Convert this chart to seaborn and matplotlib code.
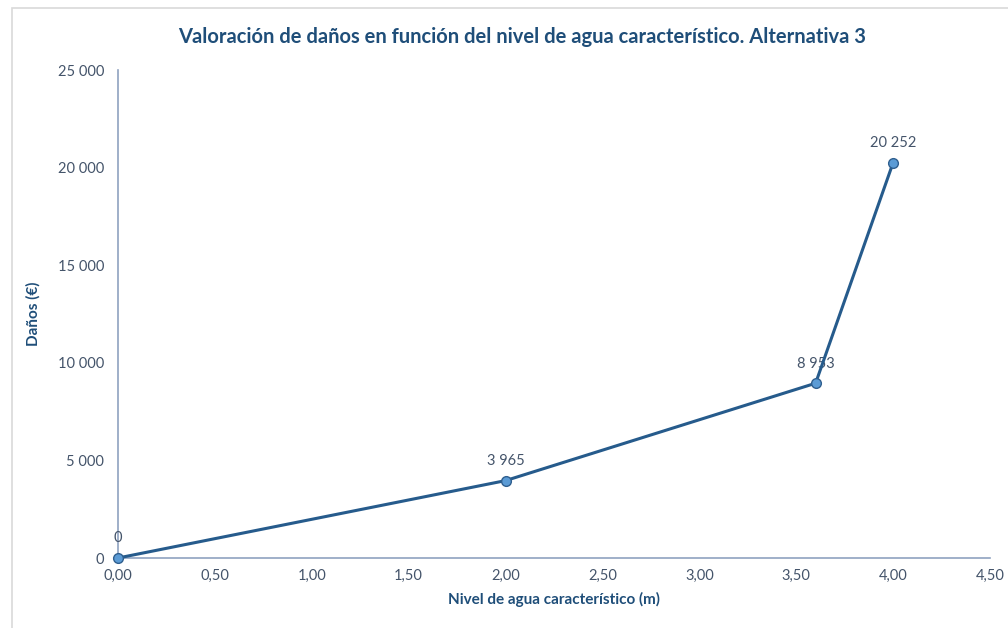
import matplotlib
matplotlib.use("Agg")
import matplotlib.pyplot as plt
import seaborn as sns
import pandas as pd
from matplotlib.patches import Rectangle

nivel = [0.0, 2.0, 3.6, 4.0]
danos = [0, 3965, 8953, 20252]
x_ticks = [0, 0.5, 1.0, 1.5, 2.0, 2.5, 3.0, 3.5, 4.0, 4.5]
y_ticks = [0, 5000, 10000, 15000, 20000, 25000]

title = "Valoración de daños en función del nivel de agua característico. Alternativa 3"
xlabel = "Nivel de agua característico (m)"
ylabel = "Daños (€)"

sns.set_theme(style="white")
plt.rcParams['font.family'] = ['Lato', 'DejaVu Sans']

df = pd.DataFrame({"x": nivel, "y": danos})

fig = plt.figure(figsize=(10.08, 6.28), dpi=100)
fig.patches.append(Rectangle((12/1008, -0.1), 1.2, (628-8)/628 + 0.1, transform=fig.transFigure,
                             fill=False, edgecolor="#D9D9D9", linewidth=1.2))
ax = fig.add_axes([118/1008, 1 - 558/628, (990-118)/1008, (558-70)/628])

line_c = "#265B8C"
sns.lineplot(data=df, x="x", y="y", ax=ax, color=line_c, linewidth=2.2,
             marker="o", markersize=7, markerfacecolor="#5B9BD5",
             markeredgecolor="#2F5F8F", markeredgewidth=1.0, clip_on=False, zorder=5)

ax.set_xlim(0, 4.5)
ax.set_ylim(0, 25000)
ax.set_xticks(x_ticks)
ax.set_yticks(y_ticks)
tick_c = "#44546A"
ax.set_xticklabels([f"{v:.2f}".replace(".", ",") for v in x_ticks])
ax.set_yticklabels([f"{v:,}".replace(",", " ") for v in y_ticks])
ax.tick_params(axis="both", length=0, labelsize=10.5, labelcolor=tick_c)
ax.tick_params(axis="x", pad=8)
ax.tick_params(axis="y", pad=10)

for s in ["top", "right"]:
    ax.spines[s].set_visible(False)
for s in ["left", "bottom"]:
    ax.spines[s].set_color("#8FA2C0")
    ax.spines[s].set_linewidth(1.2)

for xv, yv in zip(nivel, danos):
    lab = f"{yv:,}".replace(",", " ")
    ax.annotate(lab, (xv, yv), xytext=(0, 9), textcoords="offset points",
                ha="center", va="bottom", fontsize=10.5, color=tick_c)

ax.set_xlabel(xlabel, fontsize=11, fontweight="bold", color="#1F4E79", labelpad=6)
ax.set_ylabel(ylabel, fontsize=11, fontweight="bold", color="#1F4E79", labelpad=12)
fig.text(522/1008, 1 - 37/628, title, ha="center", va="center", fontsize=14.5,
         fontweight="bold", color="#1F4E79")

fig.savefig("out.png", dpi=100)
